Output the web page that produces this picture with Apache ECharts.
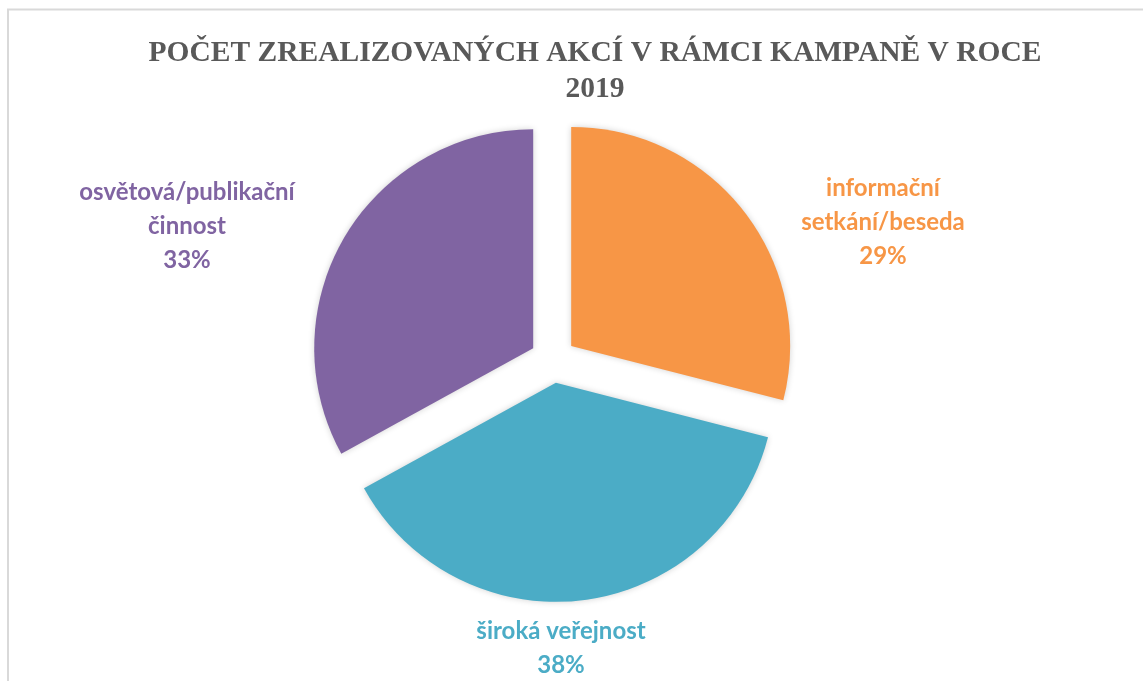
<!DOCTYPE html>
<html><head><meta charset="utf-8">
<script src="https://cdn.jsdelivr.net/npm/echarts@6/dist/echarts.min.js"></script>
<style>html,body{margin:0;padding:0;background:#fff}#c{width:1143px;height:681px}</style>
</head><body><div id="c"></div>
<script>
const categories = ['informační\nsetkání/beseda', 'široká veřejnost', 'osvětová/publikační\nčinnost'];
const values = [29, 38, 33];
const colors = ['#F79646', '#4BACC6', '#8064A2'];
const titleText = 'POČET ZREALIZOVANÝCH AKCÍ V RÁMCI KAMPANĚ V ROCE\n2019';

const labelPos = [[883, 222], [561, 648], [187, 226]];

const labelGraphics = categories.map((c, i) => ({
  type: 'text', x: labelPos[i][0], y: labelPos[i][1], silent: true,
  style: {
    text: c + '\n' + values[i] + '%', fill: colors[i],
    font: 'bold 24px Lato', lineHeight: 34,
    textAlign: 'center', textVerticalAlign: 'middle', align: 'center', verticalAlign: 'middle'
  }
}));

const chart = echarts.init(document.getElementById('c'));
chart.setOption({
  animation: false,
  title: {
    text: titleText, left: 590, top: 30, textAlign: 'center',
    textStyle: { fontFamily: 'Liberation Serif', fontWeight: 'bold', fontSize: 29.5, color: '#595959', lineHeight: 36 }
  },
  graphic: [{
    type: 'rect', shape: { x: 8, y: 9.5, width: 1200, height: 720 },
    style: { fill: 'none', stroke: '#d9d9d9', lineWidth: 2 }, silent: true
  }].concat(labelGraphics),
  series: [{
    type: 'pie',
    center: [553, 360],
    radius: 219,
    startAngle: 90,
    clockwise: true,
    selectedMode: 'multiple',
    selectedOffset: 23,
    emphasis: { disabled: true },
    itemStyle: { shadowBlur: 6, shadowColor: 'rgba(0,0,0,0.18)' },
    label: { show: false },
    labelLine: { show: false },
    data: categories.map((c, i) => ({
      name: c, value: values[i], selected: true,
      itemStyle: { color: colors[i] }
    }))
  }]
});
</script></body></html>
